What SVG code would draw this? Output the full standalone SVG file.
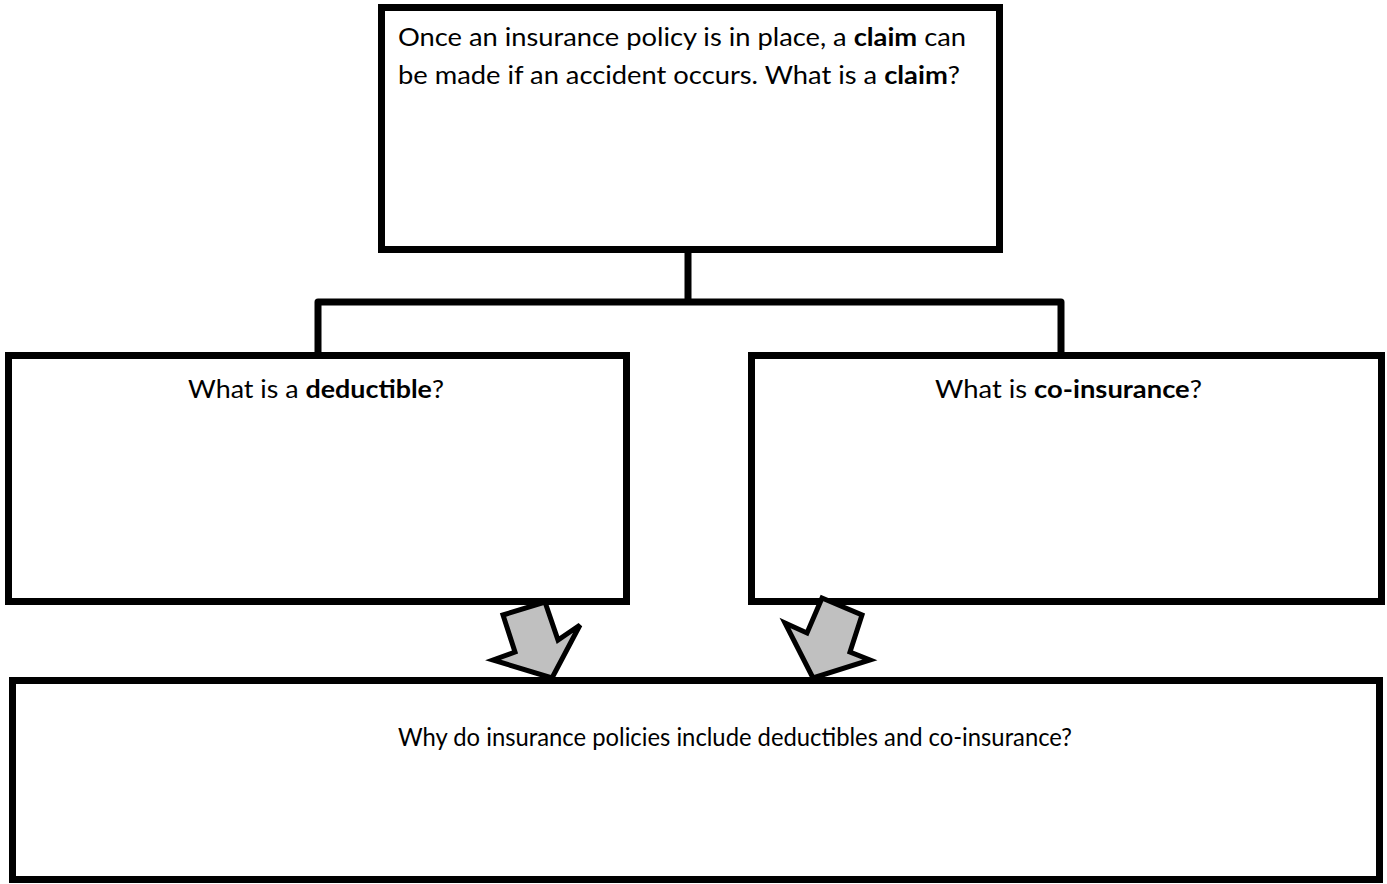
<svg xmlns="http://www.w3.org/2000/svg" width="1387" height="884" viewBox="0 0 1387 884">
<style>
.box{fill:#fff;stroke:#000;stroke-width:7;stroke-linejoin:miter}
.conn{fill:none;stroke:#000;stroke-width:7;stroke-linejoin:round;stroke-linecap:square}
.arrow{fill:#c0c0c0;stroke:#000;stroke-width:5;stroke-linejoin:miter}
.t{font-family:Lato,"Open Sans","Liberation Sans",sans-serif;font-size:25.5px;fill:#000}
.b{font-weight:bold}
</style>
<rect width="1387" height="884" fill="#fff"/>
<g id="connectors">
<path class="conn" d="M688 253 V302 H318 V352 M688 302 H1061 V352"/>
</g>
<g id="claim">
<rect class="box" x="381.5" y="7.5" width="618" height="242"/>
<text class="t" x="398" y="46" textLength="568" lengthAdjust="spacingAndGlyphs">Once an insurance policy is in place, a <tspan class="b">claim</tspan> can</text>
<text class="t" x="398" y="84" textLength="562" lengthAdjust="spacingAndGlyphs">be made if an accident occurs. What is a <tspan class="b">claim</tspan>?</text>
</g>
<g id="deductible">
<rect class="box" x="8.5" y="355.5" width="618" height="246"/>
<text class="t" x="188" y="398" textLength="256" lengthAdjust="spacingAndGlyphs">What is a <tspan class="b">deductible</tspan>?</text>
</g>
<g id="coinsurance">
<rect class="box" x="751.5" y="355.5" width="630" height="246"/>
<text class="t" x="935" y="398" textLength="267" lengthAdjust="spacingAndGlyphs">What is <tspan class="b">co-insurance</tspan>?</text>
</g>
<g id="why">
<rect class="box" x="12.5" y="680.5" width="1367" height="199"/>
<text class="t" x="398" y="746" textLength="674" lengthAdjust="spacingAndGlyphs">Why do insurance policies include deductibles and co-insurance?</text>
</g>
<g id="arrows">
<polygon class="arrow" points="503,615 545,602 558,640 580,625 552,678 493,660 515,652"/>
<polygon class="arrow" points="822,598 862,615 850,652 870,660 813,678 785,623 807,633"/>
</g>
</svg>
